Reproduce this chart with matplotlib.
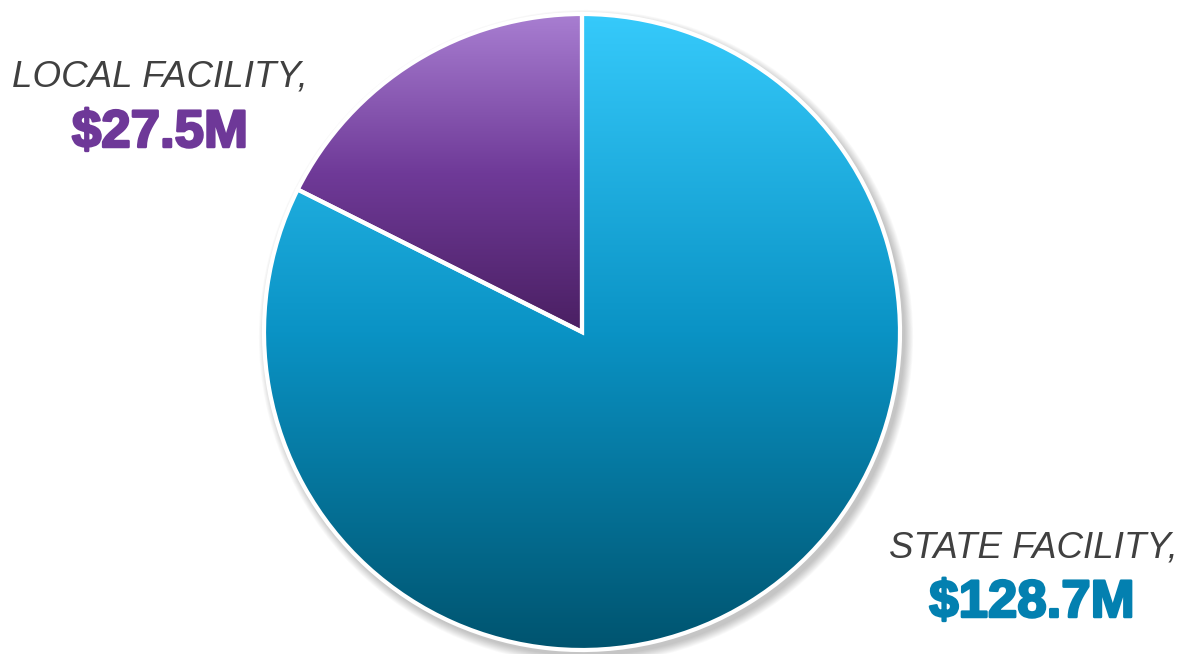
import matplotlib.pyplot as plt
import matplotlib.patheffects as pe
import numpy as np
from matplotlib.colors import LinearSegmentedColormap
from matplotlib.patches import Circle

labels = ["LOCAL FACILITY,", "STATE FACILITY,"]
values = [27.5, 128.7]
value_labels = ["$27.5M", "$128.7M"]
value_colors = ["#6e3898", "#0380b0"]
grad_colors = [["#4a1f62", "#6f3a98", "#a87ed1"],
               ["#00546f", "#0a93c5", "#36cafb"]]

W, H = 1185, 654
fig = plt.figure(figsize=(W / 100, H / 100), dpi=100)
ax = fig.add_axes([0, 0, 1, 1])

cx, cy, r = 582, 322, 318

# soft shadow down-right
for k in range(10):
    ax.add_patch(Circle((cx + 4, cy - 5), r + 1 + k * 0.9, color="black",
                        alpha=0.025, lw=0, zorder=0))

wedges, _ = ax.pie(values, startangle=90, counterclock=True, radius=r,
                   center=(cx, cy), frame=True,
                   wedgeprops=dict(edgecolor="white", linewidth=3))
ax.set_xlim(0, W)
ax.set_ylim(0, H)
ax.set_aspect("equal")
ax.axis("off")

for i, (w, cols) in enumerate(zip(wedges, grad_colors)):
    w.set_facecolor("none")
    w.set_zorder(3)
    cmap = LinearSegmentedColormap.from_list("g", cols)
    grad = np.linspace(0, 1, 256).reshape(-1, 1)
    if i == 0:
        ext = [cx - r, cx, cy, cy + r]
    else:
        ext = [cx - r, cx + r, cy - r, cy + r]
    im = ax.imshow(grad, cmap=cmap, extent=ext, origin="lower",
                   aspect="auto", zorder=2)
    im.set_clip_path(w)

lab_pos = [(160, H - 77), (1033, H - 548)]
val_pos = [(160, H - 133), (1032, H - 603)]
for lab, val, col, lp, vp in zip(labels, value_labels, value_colors, lab_pos, val_pos):
    ax.text(lp[0], lp[1], lab, fontsize=26.5, style="italic", color="#404040",
            family="Liberation Sans", ha="center", va="center")
    ax.text(vp[0], vp[1], val, fontsize=38, weight="bold", color=col,
            family="Liberation Sans", ha="center", va="center",
            path_effects=[pe.withStroke(linewidth=1.8, foreground=col)])

fig.savefig("out.png", dpi=100)
